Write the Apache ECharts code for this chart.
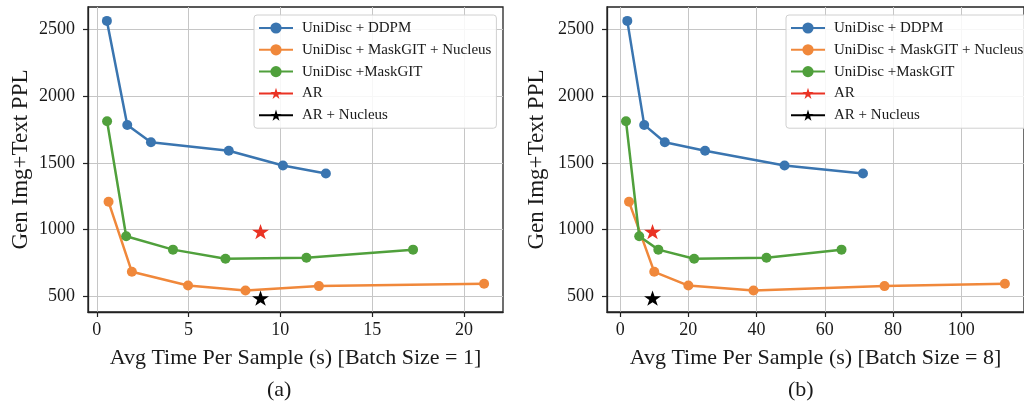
<!DOCTYPE html>
<html lang="en">
<head>
<meta charset="UTF-8">
<title>UniDisc PPL vs time</title>
<script src="https://cdn.jsdelivr.net/npm/echarts@6/dist/echarts.min.js"></script>
<style>
  html, body { margin: 0; padding: 0; background: #fff; }
  #chart { width: 1024px; height: 406px; }
</style>
</head>
<body>
<div id="chart"></div>
<script>
// ---- data ----
var seriesNames = ['UniDisc + DDPM', 'UniDisc + MaskGIT + Nucleus', 'UniDisc +MaskGIT', 'AR', 'AR + Nucleus'];

// (a) batch size = 1
var ddpmTimeA = [0.55, 1.66, 2.95, 7.19, 10.14, 12.48];
var ddpmPplA = [2563, 1784, 1654, 1591, 1480, 1420];
var nucTimeA = [0.64, 1.91, 4.97, 8.1, 12.1, 21.1];
var nucPplA = [1208, 684, 581, 544, 577, 594];
var mgTimeA = [0.56, 1.6, 4.15, 7.01, 11.42, 17.23];
var mgPplA = [1812, 950, 850, 782, 789, 850];
var arTimeA = [8.92];
var arPplA = [985];
var arNucTimeA = [8.92];
var arNucPplA = [487];

// (b) batch size = 8
var ddpmTimeB = [2.1, 7.06, 13.1, 24.9, 48.2, 71.2];
var ddpmPplB = [2563, 1784, 1654, 1591, 1480, 1420];
var nucTimeB = [2.6, 10.0, 20.0, 39.1, 77.5, 112.8];
var nucPplB = [1208, 684, 581, 544, 577, 594];
var mgTimeB = [1.72, 5.6, 11.2, 21.7, 42.9, 64.9];
var mgPplB = [1812, 950, 850, 782, 789, 850];
var arTimeB = [9.5];
var arPplB = [985];
var arNucTimeB = [9.5];
var arNucPplB = [487];

var xTicksA = [0, 5, 10, 15, 20];
var xTicksB = [0, 20, 40, 60, 80, 100];
var yTicks = [500, 1000, 1500, 2000, 2500];

var colors = ['#3a75b0', '#f0883b', '#50a03c', '#ea3324', '#000000'];
var FONT = '"Liberation Serif", "Times New Roman", serif';
var STAR = 'path://M50 0 L61.23 34.55 L97.55 34.55 L68.16 55.9 L79.39 90.45 L50 69.1 L20.61 90.45 L31.84 55.9 L2.45 34.55 L38.77 34.55 Z';

function pts(xs, ys) {
  return xs.map(function (x, i) { return [x, ys[i]]; });
}

function lineSeries(name, idx, data, ax) {
  var isStar = idx >= 3;
  return {
    name: name,
    type: 'line',
    xAxisIndex: ax,
    yAxisIndex: ax,
    data: data,
    color: colors[idx],
    symbol: isStar ? STAR : 'circle',
    symbolSize: isStar ? [17, 16] : 10,
    symbolKeepAspect: true,
    showSymbol: true,
    lineStyle: { width: 2.5, color: colors[idx] },
    itemStyle: { color: colors[idx] },
    emphasis: { disabled: true },
    z: 2 + idx
  };
}

function plain(v) { return String(v); }

function xAxisCfg(grid, min, max, ticks, title) {
  return {
    type: 'value',
    gridIndex: grid,
    min: min,
    max: max,
    name: title,
    nameLocation: 'middle',
    nameGap: 35,
    nameTextStyle: { fontFamily: FONT, fontSize: 22, color: '#1a1a1a' },
    axisLine: { show: true, onZero: false, lineStyle: { color: '#222', width: 1.3 } },
    axisTick: { show: true, length: 5, lineStyle: { color: '#222', width: 1.2 }, customValues: ticks },
    axisLabel: { margin: 9, fontFamily: FONT, fontSize: 18, color: '#1a1a1a', customValues: ticks, formatter: plain },
    splitLine: { show: true, lineStyle: { color: '#c6c6c6', width: 1 } }
  };
}

function yAxisCfg(grid, gap) {
  return {
    type: 'value',
    gridIndex: grid,
    min: 383,
    max: 2667,
    name: 'Gen Img+Text PPL',
    nameLocation: 'middle',
    nameGap: gap,
    nameTextStyle: { fontFamily: FONT, fontSize: 23, color: '#1a1a1a' },
    axisLine: { show: true, onZero: false, lineStyle: { color: '#222', width: 1.3 } },
    axisTick: { show: true, length: 5, lineStyle: { color: '#222', width: 1.2 }, customValues: yTicks },
    axisLabel: { margin: 13, fontFamily: FONT, fontSize: 18, color: '#1a1a1a', customValues: yTicks, formatter: plain },
    splitLine: { show: true, lineStyle: { color: '#c6c6c6', width: 1 } }
  };
}

function legendCfg(left) {
  return {
    orient: 'vertical',
    left: left,
    top: 15,
    data: seriesNames,
    itemWidth: 34,
    itemHeight: 14,
    itemGap: 6.8,
    padding: [5.5, 5, 5.5, 4],
    backgroundColor: 'rgba(255,255,255,0.85)',
    borderColor: '#d0d0d0',
    borderWidth: 1,
    borderRadius: 3,
    selectedMode: false,
    textStyle: { fontFamily: FONT, fontSize: 15, color: '#1a1a1a', padding: [0, 0, 0, 4] }
  };
}

var chart = echarts.init(document.getElementById('chart'), null, { renderer: 'canvas' });

var option = {
  animation: false,
  backgroundColor: '#ffffff',
  grid: [
    { left: 88, top: 7, width: 415, height: 305, show: true, borderColor: '#222', borderWidth: 1.3, backgroundColor: 'transparent' },
    { left: 607, top: 7, width: 426, height: 305, show: true, borderColor: '#222', borderWidth: 1.3, backgroundColor: 'transparent' }
  ],
  xAxis: [
    xAxisCfg(0, -0.48, 22.13, xTicksA, 'Avg Time Per Sample (s) [Batch Size = 1]'),
    xAxisCfg(1, -3.85, 118.4, xTicksB, 'Avg Time Per Sample (s) [Batch Size = 8]')
  ],
  yAxis: [yAxisCfg(0, 56), yAxisCfg(1, 59)],
  legend: [legendCfg(254), legendCfg(786)],
  graphic: [
    { type: 'text', left: 267, top: 379, style: { text: '(a)', font: '22px ' + FONT, fill: '#1a1a1a' } },
    { type: 'text', left: 788, top: 379, style: { text: '(b)', font: '22px ' + FONT, fill: '#1a1a1a' } }
  ],
  series: [
    lineSeries(seriesNames[0], 0, pts(ddpmTimeA, ddpmPplA), 0),
    lineSeries(seriesNames[1], 1, pts(nucTimeA, nucPplA), 0),
    lineSeries(seriesNames[2], 2, pts(mgTimeA, mgPplA), 0),
    lineSeries(seriesNames[3], 3, pts(arTimeA, arPplA), 0),
    lineSeries(seriesNames[4], 4, pts(arNucTimeA, arNucPplA), 0),
    lineSeries(seriesNames[0], 0, pts(ddpmTimeB, ddpmPplB), 1),
    lineSeries(seriesNames[1], 1, pts(nucTimeB, nucPplB), 1),
    lineSeries(seriesNames[2], 2, pts(mgTimeB, mgPplB), 1),
    lineSeries(seriesNames[3], 3, pts(arTimeB, arPplB), 1),
    lineSeries(seriesNames[4], 4, pts(arNucTimeB, arNucPplB), 1)
  ]
};

chart.setOption(option);
</script>
</body>
</html>
